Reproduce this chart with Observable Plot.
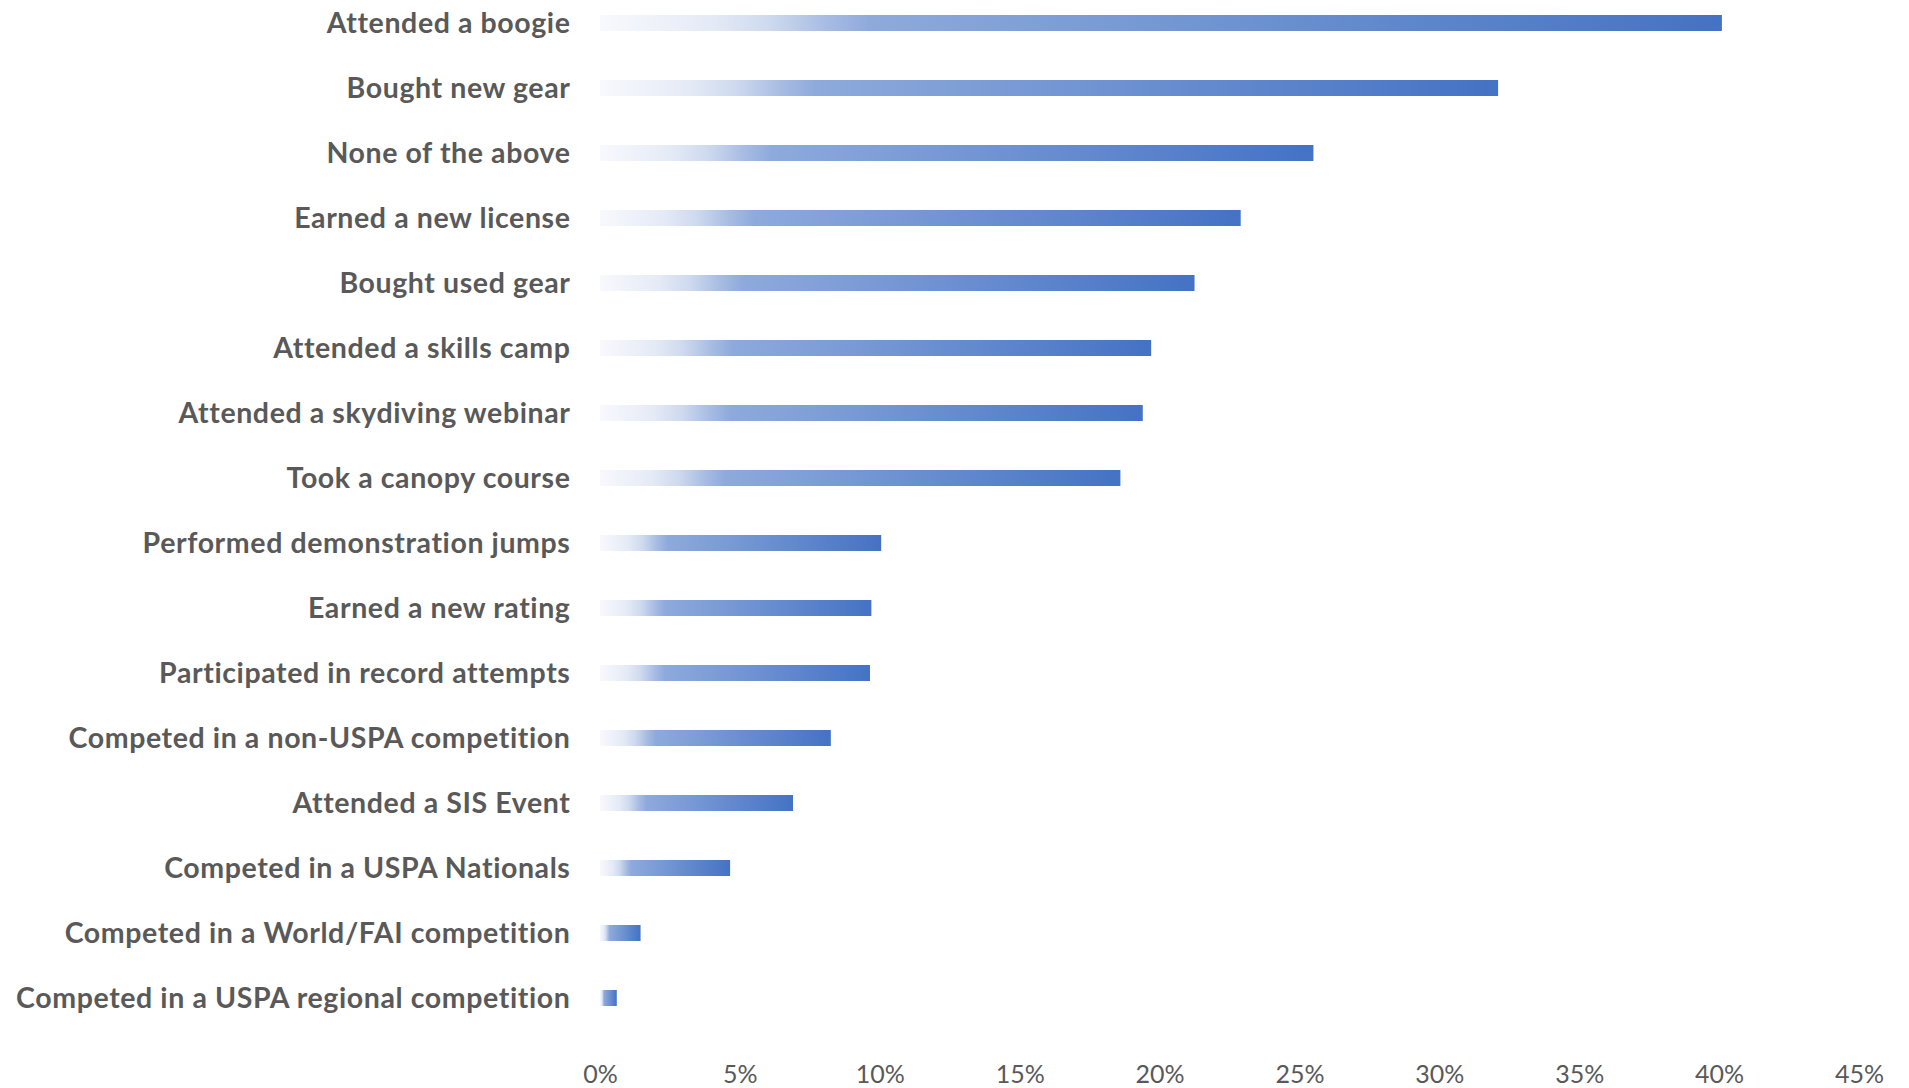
<!DOCTYPE html>
<html>
<head>
<meta charset="utf-8">
<script src="https://cdn.jsdelivr.net/npm/d3@7"></script>
<script src="https://cdn.jsdelivr.net/npm/@observablehq/plot@0.6"></script>
<style>
  html, body { margin: 0; padding: 0; background: #fff; overflow: hidden; }
  #chart svg { display: block; }
  .ylab text { letter-spacing: 0.6px; }
</style>
</head>
<body>
<div id="chart"></div>
<script>
const categories = [
  "Attended a boogie",
  "Bought new gear",
  "None of the above",
  "Earned a new license",
  "Bought used gear",
  "Attended a skills camp",
  "Attended a skydiving webinar",
  "Took a canopy course",
  "Performed demonstration jumps",
  "Earned a new rating",
  "Participated in record attempts",
  "Competed in a non-USPA competition",
  "Attended a SIS Event",
  "Competed in a USPA Nationals",
  "Competed in a World/FAI competition",
  "Competed in a USPA regional competition"
];
const values = [40.1, 32.1, 25.5, 22.9, 21.25, 19.7, 19.4, 18.6, 10.05, 9.7, 9.65, 8.25, 6.9, 4.65, 1.45, 0.6];
const xTicks = [0, 5, 10, 15, 20, 25, 30, 35, 40, 45];

const data = categories.map((c, i) => ({category: c, value: values[i]}));

const chart = Plot.plot({
  width: 1909,
  height: 1088,
  marginLeft: 600,
  marginRight: 50,
  marginTop: 13,
  marginBottom: 80,
  style: {fontFamily: "Lato, sans-serif", color: "#595959", background: "#fff"},
  x: {domain: [0, 45], ticks: xTicks, tickFormat: d => d + "%", label: null},
  y: {domain: categories, paddingInner: 0.755, paddingOuter: 0, label: null},
  marks: [
    Plot.barX(data, {x: "value", y: "category", fill: "url(#barGrad)"}),
    Plot.axisX({ticks: xTicks, tickFormat: d => d + "%", tickSize: 0, tickPadding: 57, fontSize: 25, fill: "#595959", label: null}),
    Plot.axisY({tickSize: 0, tickPadding: 30, fontSize: 28.5, fontWeight: "bold", fill: "#595959", label: null, className: "ylab"})
  ]
});

const svgNS = "http://www.w3.org/2000/svg";
const defs = document.createElementNS(svgNS, "defs");
defs.innerHTML = `<linearGradient id="barGrad" x1="0" y1="0" x2="1" y2="0">
  <stop offset="0" stop-color="#f8f9fd"/>
  <stop offset="0.10" stop-color="#e4eaf6"/>
  <stop offset="0.15" stop-color="#cfdaef"/>
  <stop offset="0.20" stop-color="#a9bde3"/>
  <stop offset="0.24" stop-color="#8eaadc"/>
  <stop offset="1" stop-color="#4472c4"/>
</linearGradient>`;
chart.insertBefore(defs, chart.firstChild);

document.getElementById("chart").appendChild(chart);
</script>
</body>
</html>
